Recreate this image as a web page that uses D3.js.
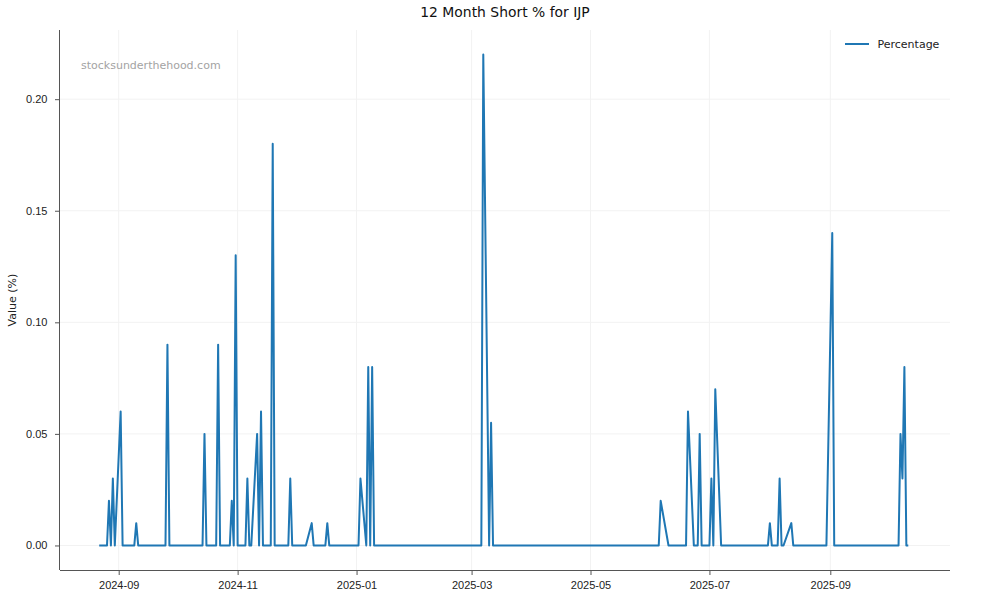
<!DOCTYPE html>
<html lang="en">
<head>
    <meta charset="UTF-8">
    <title>12 Month Short % for IJP</title>
    <script src="https://cdn.jsdelivr.net/npm/d3@7"></script>
    <style>
  body { margin: 0; background: #fff; }
  svg { font-family: "DejaVu Sans", sans-serif; }
  .grid line { stroke: #f2f2f2; stroke-width: 1px; }
  .axis path, .axis line { stroke: #555; }
  .axis text { fill: #222; font-size: 11px; }
  .line { fill: none; stroke: #1f77b4; stroke-width: 2px; stroke-linejoin: round; }
    </style>
</head>
<body>
    <svg width="1000" height="600"></svg>
    <script>

        // short % readings (trading days)
        var dates = [
          "2024-08-22","2024-08-26","2024-08-27","2024-08-28","2024-08-29","2024-08-30",
          "2024-09-02","2024-09-03","2024-09-09","2024-09-10","2024-09-11",
          "2024-09-25","2024-09-26","2024-09-27",
          "2024-10-14","2024-10-15","2024-10-16","2024-10-21","2024-10-22","2024-10-23",
          "2024-10-28","2024-10-29","2024-10-30","2024-10-31","2024-11-01",
          "2024-11-05","2024-11-06","2024-11-07","2024-11-08","2024-11-11","2024-11-12",
          "2024-11-13","2024-11-14","2024-11-18","2024-11-19","2024-11-20",
          "2024-11-27","2024-11-28","2024-11-29",
          "2024-12-06","2024-12-09","2024-12-10","2024-12-16","2024-12-17","2024-12-18",
          "2025-01-02","2025-01-03","2025-01-06","2025-01-07","2025-01-08","2025-01-09","2025-01-10",
          "2025-03-06","2025-03-07","2025-03-10","2025-03-11","2025-03-12",
          "2025-06-05","2025-06-06","2025-06-10",
          "2025-06-19","2025-06-20","2025-06-23","2025-06-25","2025-06-26","2025-06-27",
          "2025-07-01","2025-07-02","2025-07-03","2025-07-04","2025-07-07",
          "2025-07-31","2025-08-01","2025-08-02","2025-08-05","2025-08-06","2025-08-07",
          "2025-08-08","2025-08-12","2025-08-13",
          "2025-08-30","2025-09-02","2025-09-03",
          "2025-10-06","2025-10-07","2025-10-08","2025-10-09","2025-10-10","2025-10-11"
        ];
        var values = [
          0, 0, 0.02, 0, 0.03, 0,
          0.06, 0, 0, 0.01, 0,
          0, 0.09, 0,
          0, 0.05, 0, 0, 0.09, 0,
          0, 0.02, 0, 0.13, 0,
          0, 0.03, 0, 0, 0.05, 0,
          0.06, 0, 0, 0.18, 0,
          0, 0.03, 0,
          0, 0.01, 0, 0, 0.01, 0,
          0, 0.03, 0, 0.08, 0, 0.08, 0,
          0, 0.22, 0, 0.055, 0,
          0, 0.02, 0,
          0, 0.06, 0, 0, 0.05, 0,
          0, 0.03, 0, 0.07, 0,
          0, 0.01, 0, 0, 0.03, 0,
          0, 0.01, 0,
          0, 0.14, 0,
          0, 0.05, 0.03, 0.08, 0, 0
        ];
        var yTicks = [0, 0.05, 0.10, 0.15, 0.20];

        var svg = d3.select("svg"),
            mLeft = 60, mRight = 950, mTop = 30, mBottom = 570;

        var parse = d3.utcParse("%Y-%m-%d");
        var data = dates.map(function(d, i) { return { date: parse(d), value: values[i] }; });

        // matplotlib style 5% margins
        var xExt = d3.extent(data, function(d) { return d.date; }),
            xPad = (xExt[1] - xExt[0]) * 0.05,
            yMax = d3.max(values), yPad = yMax * 0.05;

        // source timestamps sit a little after midnight, nudge range to match
        var x = d3.scaleUtc()
            .domain([new Date(+xExt[0] - xPad), new Date(+xExt[1] + xPad)])
            .range([mLeft - 1.25, mRight - 1.25]);
        var y = d3.scaleLinear()
            .domain([-yPad, yMax + yPad])
            .range([mBottom, mTop]);

        var xTicks = x.ticks(d3.utcMonth.every(2));

        // grid
        svg.append("g").attr("class", "grid")
          .selectAll("line").data(xTicks).enter().append("line")
            .attr("x1", function(d) { return x(d); }).attr("x2", function(d) { return x(d); })
            .attr("y1", mTop).attr("y2", mBottom);
        svg.append("g").attr("class", "grid")
          .selectAll("line").data(yTicks).enter().append("line")
            .attr("x1", mLeft).attr("x2", mRight)
            .attr("y1", function(d) { return y(d); }).attr("y2", function(d) { return y(d); });

        // axes (left + bottom spines only)
        svg.append("g").attr("class", "axis")
            .attr("transform", "translate(0," + mBottom + ")")
            .call(d3.axisBottom(x).tickValues(xTicks).tickFormat(d3.utcFormat("%Y-%m"))
                .tickSize(5).tickSizeOuter(0).tickPadding(6))
            .select(".domain").attr("d", "M" + mLeft + ",0.5H" + mRight);

        svg.append("g").attr("class", "axis")
            .attr("transform", "translate(" + mLeft + ",0)")
            .call(d3.axisLeft(y).tickValues(yTicks).tickFormat(d3.format(".2f"))
                .tickSize(5).tickSizeOuter(0).tickPadding(7.5))
            .select(".domain").attr("d", "M-0.5," + mTop + "V" + mBottom);

        // series
        var line = d3.line()
            .x(function(d) { return x(d.date); })
            .y(function(d) { return y(d.value); });

        svg.append("path")
            .datum(data)
            .attr("class", "line")
            .attr("d", line);

        // title, labels, watermark
        svg.append("text")
            .attr("x", (mLeft + mRight) / 2).attr("y", 17)
            .attr("text-anchor", "middle")
            .style("font-size", "13.9px").style("fill", "#111")
            .text("12 Month Short % for IJP");

        svg.append("text")
            .attr("transform", "translate(15.5," + (mTop + mBottom) / 2 + ") rotate(-90)")
            .attr("text-anchor", "middle")
            .style("font-size", "11px").style("fill", "#222")
            .text("Value (%)");

        svg.append("text")
            .attr("x", 81).attr("y", 69)
            .style("font-size", "11px").style("fill", "#a3a3a3")
            .text("stocksunderthehood.com");

        // legend
        var legend = svg.append("g");
        legend.append("line")
            .attr("x1", 845).attr("x2", 869).attr("y1", 44).attr("y2", 44)
            .attr("stroke", "#1f77b4").attr("stroke-width", 2);
        legend.append("text")
            .attr("x", 877.5).attr("y", 48)
            .style("font-size", "11px").style("fill", "#222")
            .text("Percentage");

    </script>
</body>
</html>
